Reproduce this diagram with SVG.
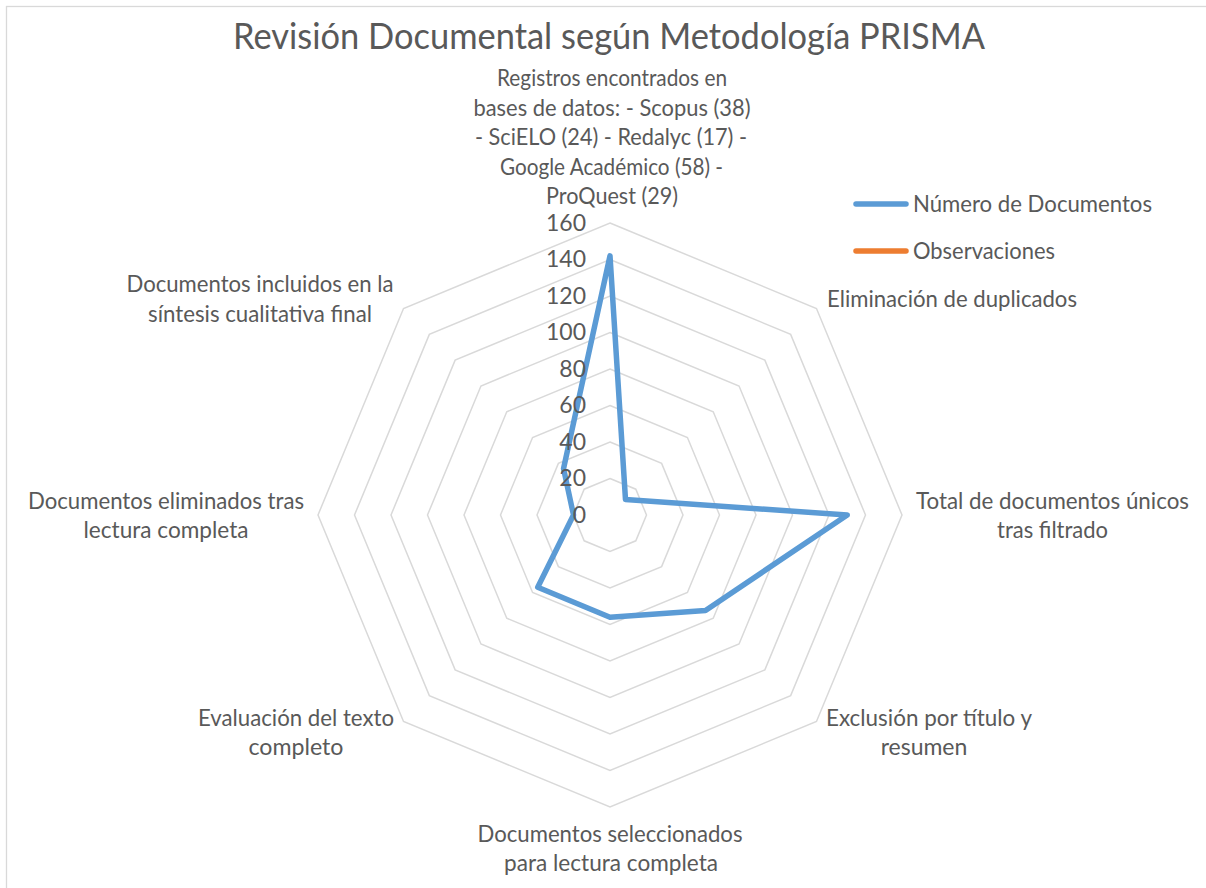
<svg xmlns="http://www.w3.org/2000/svg" width="1206" height="888" viewBox="0 0 1206 888">
<style>
.bg{fill:#ffffff}
.frame{fill:none;stroke:#D9D9D9;stroke-width:1.3}
.ring{fill:none;stroke:#D9D9D9;stroke-width:1.5;stroke-linejoin:miter}
.series{fill:none;stroke:#5B9BD5;stroke-width:5.5;stroke-linejoin:round;stroke-linecap:round}
.lg1{stroke:#5B9BD5;stroke-width:5.5;stroke-linecap:round}
.lg2{stroke:#ED7D31;stroke-width:5.5;stroke-linecap:round}
text{font-family:Lato,"Open Sans","Liberation Sans",sans-serif;fill:#595959;font-size:23px}
.title{font-size:37px}
.lbl{text-anchor:middle}
.num{text-anchor:end}
</style>
<rect class="bg" x="0" y="0" width="1206" height="888"/>
<rect class="frame" x="6.5" y="6.5" width="1220" height="900"/>
<g id="title"><text class="title lbl" x="609" y="49" textLength="752" lengthAdjust="spacingAndGlyphs">Revisión Documental según Metodología PRISMA</text></g>
<g id="grid">
<polygon class="ring" points="610,478.5 635.81,489.19 646.5,515 635.81,540.81 610,551.5 584.19,540.81 573.5,515 584.19,489.19"/>
<polygon class="ring" points="610,442 661.62,463.38 683,515 661.62,566.62 610,588 558.38,566.62 537,515 558.38,463.38"/>
<polygon class="ring" points="610,405.5 687.43,437.57 719.5,515 687.43,592.43 610,624.5 532.57,592.43 500.5,515 532.57,437.57"/>
<polygon class="ring" points="610,369 713.24,411.76 756,515 713.24,618.24 610,661 506.76,618.24 464,515 506.76,411.76"/>
<polygon class="ring" points="610,332.5 739.05,385.95 792.5,515 739.05,644.05 610,697.5 480.95,644.05 427.5,515 480.95,385.95"/>
<polygon class="ring" points="610,296 764.86,360.14 829,515 764.86,669.86 610,734 455.14,669.86 391,515 455.14,360.14"/>
<polygon class="ring" points="610,259.5 790.66,334.34 865.5,515 790.66,695.66 610,770.5 429.34,695.66 354.5,515 429.34,334.34"/>
<polygon class="ring" points="610,223 816.48,308.52 902,515 816.48,721.48 610,807 403.52,721.48 318,515 403.52,308.52"/>
</g>
<g id="connectors">
<polygon id="series-numero" class="series" points="610,255.85 625.49,499.51 847.25,515 705.5,610.5 610,617.2 537.73,587.27 573.5,515 563.54,468.54"/>
</g>
<g id="axis-values">
<text class="num" x="586" y="522.5">0</text>
<text class="num" x="586" y="486">20</text>
<text class="num" x="586" y="449.5">40</text>
<text class="num" x="586" y="413">60</text>
<text class="num" x="586" y="376.5">80</text>
<text class="num" x="586" y="340">100</text>
<text class="num" x="586" y="303.5">120</text>
<text class="num" x="586" y="267">140</text>
<text class="num" x="586" y="231">160</text>
</g>
<g id="cat-registros">
<text class="lbl" x="612" y="86" textLength="230" lengthAdjust="spacingAndGlyphs">Registros encontrados en</text>
<text class="lbl" x="612" y="115.5" textLength="277" lengthAdjust="spacingAndGlyphs">bases de datos: - Scopus (38)</text>
<text class="lbl" x="611" y="145" textLength="272" lengthAdjust="spacingAndGlyphs">- SciELO (24) - Redalyc (17) -</text>
<text class="lbl" x="611.5" y="174.5" textLength="223" lengthAdjust="spacingAndGlyphs">Google Académico (58) -</text>
<text class="lbl" x="612" y="203.5" textLength="132" lengthAdjust="spacingAndGlyphs">ProQuest (29)</text>
</g>
<g id="cat-duplicados">
<text class="lbl" x="952" y="306.5" textLength="250" lengthAdjust="spacingAndGlyphs">Eliminación de duplicados</text>
</g>
<g id="cat-total">
<text class="lbl" x="1052.5" y="508.5" textLength="273" lengthAdjust="spacingAndGlyphs">Total de documentos únicos</text>
<text class="lbl" x="1052.5" y="537.5" textLength="111" lengthAdjust="spacingAndGlyphs">tras filtrado</text>
</g>
<g id="cat-exclusion">
<text class="lbl" x="929" y="726" textLength="206" lengthAdjust="spacingAndGlyphs">Exclusión por título y</text>
<text class="lbl" x="924" y="755">resumen</text>
</g>
<g id="cat-seleccionados">
<text class="lbl" x="610" y="842" textLength="265" lengthAdjust="spacingAndGlyphs">Documentos seleccionados</text>
<text class="lbl" x="611" y="871" textLength="214" lengthAdjust="spacingAndGlyphs">para lectura completa</text>
</g>
<g id="cat-evaluacion">
<text class="lbl" x="296" y="726" textLength="196" lengthAdjust="spacingAndGlyphs">Evaluación del texto</text>
<text class="lbl" x="296" y="755" textLength="95" lengthAdjust="spacingAndGlyphs">completo</text>
</g>
<g id="cat-eliminados">
<text class="lbl" x="166" y="508.5" textLength="276" lengthAdjust="spacingAndGlyphs">Documentos eliminados tras</text>
<text class="lbl" x="166" y="537.5" textLength="165" lengthAdjust="spacingAndGlyphs">lectura completa</text>
</g>
<g id="cat-incluidos">
<text class="lbl" x="260" y="291.5" textLength="267" lengthAdjust="spacingAndGlyphs">Documentos incluidos en la</text>
<text class="lbl" x="260" y="321.5" textLength="224" lengthAdjust="spacingAndGlyphs">síntesis cualitativa final</text>
</g>
<g id="legend">
<line class="lg1" x1="856" y1="204" x2="906" y2="204"/>
<text x="913" y="212" textLength="239" lengthAdjust="spacingAndGlyphs">Número de Documentos</text>
<line class="lg2" x1="856" y1="251" x2="906" y2="251"/>
<text x="913" y="258.5" textLength="142" lengthAdjust="spacingAndGlyphs">Observaciones</text>
</g>
</svg>
